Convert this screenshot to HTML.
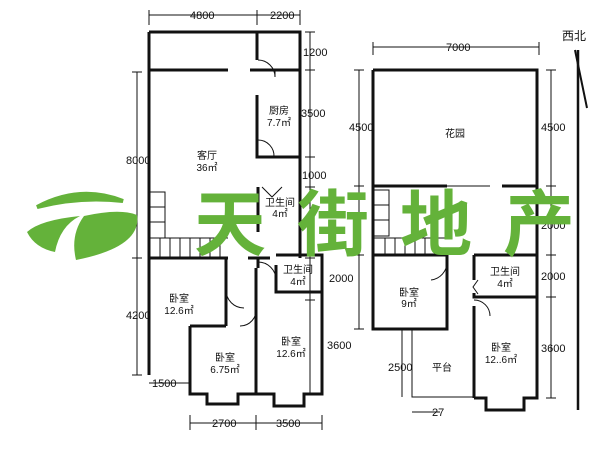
<!DOCTYPE html>
<html><head><meta charset="utf-8"><style>
html,body{margin:0;padding:0;background:#fff;}
svg{display:block;}
text{font-family:"Liberation Sans","Noto Sans CJK SC",sans-serif;fill:#111;}
</style></head><body>
<svg width="600" height="450" viewBox="0 0 600 450" xmlns="http://www.w3.org/2000/svg">
<g stroke="#111" fill="none">
<g stroke-width="3">
<path d="M149,32 H300 V258"/>
<path d="M149,32 V375"/>
<path d="M149,70 H228 M250,70 H300"/>
<path d="M257,32 V60 M257,95 V157 H300"/>
<path d="M149,258 H228 M226,258 V326"/>
<path d="M258,187 V232"/>
<path d="M190,326 H226 M190,326 V394 H207 V404 H238 V394 H256"/>
<path d="M256,326 V394 M256,268 V326"/>
<path d="M248,258 H270 M258,258 V268"/>
<path d="M276,255 H322 V394 H304 V406 H274 V394 H256"/>
<path d="M276,265 V292 H322"/>
</g>
<g stroke-width="1">
<rect x="149" y="192" width="16" height="46"/>
<path d="M149,207 H165 M149,222 H165"/>
<path d="M149,238 H228 M160,238 V258 M170,238 V258 M180,238 V258 M190,238 V258 M200,238 V258 M210,238 V258 M220,238 V258"/>
<path d="M258,60 A17,17 0 0 1 275,77 V70" />
<path d="M258,140 A16,16 0 0 1 274,157"/>
<path d="M226,290 A18,18 0 0 0 244,308 M256,308 A16,16 0 0 1 240,326"/>
<path d="M258,262 A18,18 0 0 1 276,280"/>
<path d="M262,187 L272,197 L282,187"/>
</g>
<g stroke-width="1">
<path d="M149,15 H300 M149,10 V25 M257,10 V25 M300,10 V25"/>
<path d="M310,32 V394 M305,32 H315 M305,70 H315 M305,157 H315 M305,187 H315 M305,258 H315 M305,300 H315 M305,394 H315"/>
<path d="M137,72 V375 M132,72 H142 M132,258 H142 M132,375 H142"/>
<path d="M149,383 H190 M190,423 H322 M190,415 V430 M256,415 V430 M322,415 V430"/>
</g>
<g stroke-width="3">
<path d="M373,70 H537 V398 H524 V410 H486 V398 H474"/>
<path d="M373,70 V329 H447 V255"/>
<path d="M373,186 H447 M502,186 H537"/>
<path d="M373,255 H447"/>
<path d="M474,255 H537 M474,255 V280 M474,293 V297 H537 M474,306 V398"/>
</g>
<g stroke-width="1">
<path d="M447,186 H490" />
<path d="M412,329 V397 H474"/>
<rect x="373" y="190" width="16" height="46"/>
<path d="M373,205 H389 M373,220 H389 M373,238 H445 M385,238 V255 M395,238 V255 M405,238 V255 M415,238 V255 M425,238 V255 M435,238 V255"/>
<path d="M447,262 A18,18 0 0 1 431,280 M474,300 A16,16 0 0 1 490,316 M478,280 L473,287 L478,294"/>
<path d="M373,47 H539 M373,42 V55 M539,42 V55"/>
<path d="M359,70 V329 M354,70 H364 M354,186 H364 M354,255 H364 M354,329 H364"/>
<path d="M551,70 V398 M546,70 H556 M546,186 H556 M546,255 H556 M546,297 H556 M546,398 H556"/>
<path d="M402,330 V397 M412,412 H440"/>
</g>
<path d="M578,50 V410" stroke-width="2.5"/>
<path d="M575,50 L587,108" stroke-width="2"/>
</g>
<g font-size="11">
<text x="190" y="19">4800</text><text x="270" y="19">2200</text>
<text x="303" y="56">1200</text><text x="301" y="117">3500</text><text x="302" y="179">1000</text>
<text x="329" y="282">2000</text><text x="327" y="349">3600</text>
<text x="126" y="164">8000</text><text x="126" y="319">4200</text>
<text x="152" y="387">1500</text><text x="212" y="427">2700</text><text x="276" y="427">3500</text>
<text x="446" y="51">7000</text><text x="349" y="131">4500</text><text x="541" y="131">4500</text>
<text x="541" y="229">2000</text><text x="541" y="280">2000</text><text x="541" y="352">3600</text>
<text x="388" y="371">2500</text><text x="432" y="416">27</text>
<text x="562" y="40" font-size="12">西北</text>
</g>
<g font-size="10" text-anchor="middle">
<text x="279" y="114">厨房</text><text x="279" y="126">7.7㎡</text>
<text x="207" y="159">客厅</text><text x="207" y="171">36㎡</text>
<text x="280" y="206">卫生间</text><text x="280" y="217">4㎡</text>
<text x="179" y="302">卧室</text><text x="179" y="314">12.6㎡</text>
<text x="225" y="361">卧室</text><text x="225" y="373">6.75㎡</text>
<text x="291" y="345">卧室</text><text x="291" y="357">12.6㎡</text>
<text x="298" y="273">卫生间</text><text x="298" y="285">4㎡</text>
<text x="455" y="137">花园</text>
<text x="409" y="296">卧室</text><text x="409" y="307">9㎡</text>
<text x="505" y="275">卫生间</text><text x="505" y="287">4㎡</text>
<text x="442" y="371">平台</text>
<text x="501" y="351">卧室</text><text x="501" y="363">12..6㎡</text>
</g>
<g fill="#64b23a">
<path d="M37,207 Q80,184 123,201 Q80,196 37,207 Z" stroke="#64b23a" stroke-width="4"/>
<path d="M27,232 Q40,220 80,216 Q60,226 55,252 Q35,248 27,232 Z"/>
<path d="M84,216 Q120,208 137,215 Q142,247 76,260 Q70,235 84,216 Z"/>
<g font-size="72" font-weight="bold">
<text x="194" y="250" style="fill:#64b23a">天</text>
<text x="297" y="250" style="fill:#64b23a">街</text>
<text x="400" y="250" style="fill:#64b23a">地</text>
<text x="503" y="250" style="fill:#64b23a">产</text>
</g>
</g>
</svg>
</body></html>
